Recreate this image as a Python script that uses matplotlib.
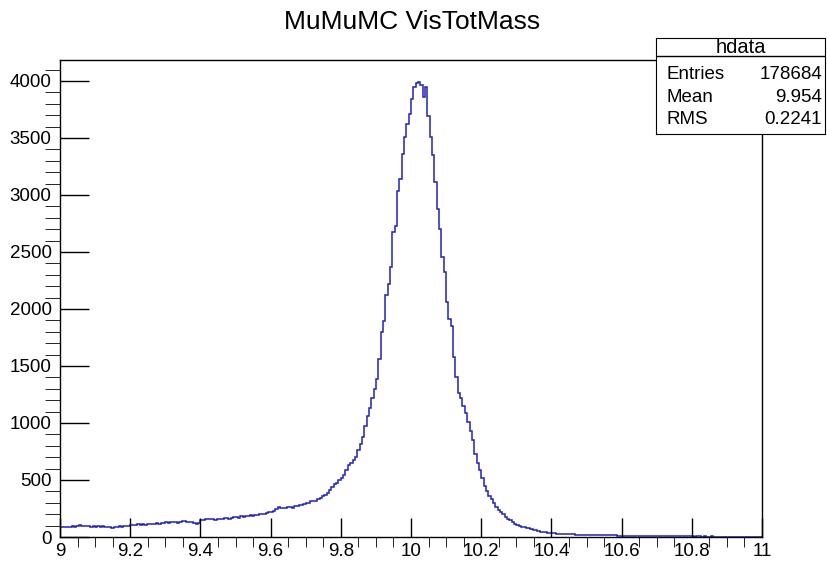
import numpy as np
import matplotlib
matplotlib.use("Agg")
import matplotlib.pyplot as plt
from matplotlib.ticker import MultipleLocator, FuncFormatter

plt.rcParams['font.family'] = ['Liberation Sans', 'DejaVu Sans']

title = "MuMuMC VisTotMass"
x_min, x_max, n_bins = 9.0, 11.0, 300

# bins 0-119: cola izquierda
counts_left = [
    88, 84, 90, 86, 92, 95, 90, 98, 102, 96, 100, 94, 97, 92, 95,
    91, 93, 88, 95, 92, 90, 86, 82, 84, 90, 95, 92, 98, 100, 96,
    104, 108, 102, 110, 106, 112, 108, 114, 118, 110, 116, 120, 114, 122, 126,
    130, 124, 128, 134, 130, 126, 132, 136, 138, 132, 135, 128, 122, 118, 120,
    152, 148, 156, 160, 154, 158, 150, 155, 162, 158, 165, 168, 160, 170, 172,
    176, 170, 180, 178, 185, 182, 190, 188, 195, 192, 198, 200, 205, 210, 215,
    222, 230, 245, 262, 255, 258, 250, 262, 265, 258, 268, 275, 280, 278, 290,
    302, 300, 312, 320, 318, 330, 345, 360, 372, 390, 410, 435, 462, 478, 500,
]
# bins 120-170: pico
counts_peak = [
    520, 545, 590, 630, 650, 672, 700, 765, 820, 880, 975, 1058, 1130,
    1222, 1302, 1390, 1565, 1794, 1891, 2120, 2216, 2366, 2674, 2726, 3034,
    3140, 3360, 3509, 3624, 3712, 3843, 3949, 3985, 3990, 3965, 3861, 3945,
    3694, 3509, 3350, 3113, 2876, 2700, 2454, 2322, 2058, 1908, 1847, 1583,
    1407, 1266,
]
# bins 171-299: cola derecha
counts_right = [
    1220, 1150, 1090, 1010, 930, 853, 730, 650, 590, 520, 450, 400, 360, 330, 296,
    265, 240, 220, 198, 178, 162, 148, 130, 118, 105, 95, 90, 85, 80, 76,
    72, 64, 58, 52, 47, 44, 40, 38, 35, 33, 32, 30, 28, 27, 26,
    25, 24, 23, 22, 21, 21, 20, 19, 19, 18, 18, 17, 17, 16, 16,
    16, 15, 15, 16, 15, 14, 14, 13, 13, 12, 12, 12, 11, 11, 10,
    11, 10, 10, 9, 9, 9, 8, 9, 8, 8, 7, 8, 7, 7, 6,
    6, 7, 6, 6, 5, 6, 5, 5, 6, 5, 4, 5, 5, 4, 5,
    4, 4, 5, 4, 3, 4, 3, 3, 4, 2, 3, 2, 3, 2, 1,
    2, 1, 0, 1, 0, 0, 1, 0, 0,
]

stats_name = "hdata"
stats_labels = ["Entries", "Mean", "RMS"]
stats_values = ["178684", "9.954", "0.2241"]

counts = np.array(counts_left + counts_peak + counts_right)
edges = np.linspace(x_min, x_max, n_bins + 1)

W, H = 827, 561
fig = plt.figure(figsize=(W / 100, H / 100), dpi=100)
ax = fig.add_axes([60 / W, 24 / H, 702 / W, 477 / H])
ax.stairs(counts, edges, color='#2222bb', lw=1.1)
ax.set_xlim(x_min, x_max)
ax.set_ylim(0, 4184)

ax.xaxis.set_major_locator(MultipleLocator(0.2))
ax.xaxis.set_minor_locator(MultipleLocator(0.05))
ax.yaxis.set_major_locator(MultipleLocator(500))
ax.yaxis.set_minor_locator(MultipleLocator(100))
ax.xaxis.set_major_formatter(FuncFormatter(lambda v, p: f"{v:g}"))
ax.tick_params(direction='in', top=False, right=False, labelsize=13.5, width=1)
ax.tick_params(axis='x', which='major', length=14, pad=4)
ax.tick_params(axis='x', which='minor', length=7)
ax.tick_params(axis='y', which='major', length=21, pad=6)
ax.tick_params(axis='y', which='minor', length=11)
for s in ax.spines.values():
    s.set_linewidth(1)

fig.text(411.7 / W, 1 - 29.3 / H, title, ha='center', va='baseline', fontsize=19)

# caja de estadisticas
box = fig.add_axes([656 / W, 1 - 134 / H, 169 / W, 96 / H])
box.set_xticks([])
box.set_yticks([])
box.set_xlim(0, 1)
box.set_ylim(0, 1)
box.axhline(0.8125, color='black', lw=1)
box.text(0.5, 0.906, stats_name, ha='center', va='center', fontsize=14.5)
rows_y = [0.615, 0.375, 0.146]
for lab, val, yy in zip(stats_labels, stats_values, rows_y):
    box.text(0.06, yy, lab, ha='left', va='center', fontsize=13.5)
    box.text(0.982, yy, val, ha='right', va='center', fontsize=13.5)

fig.savefig('out.png', dpi=100)
